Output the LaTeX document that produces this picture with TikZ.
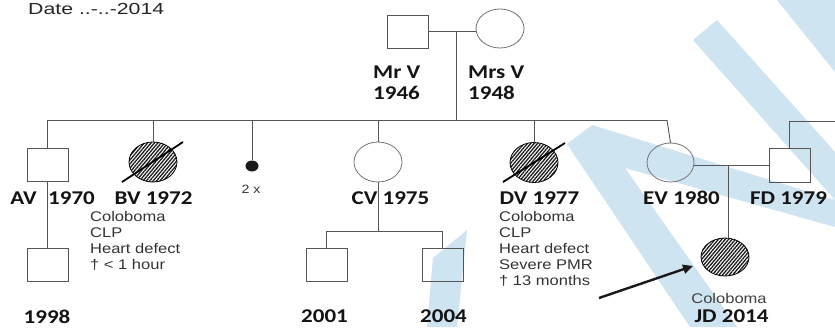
\documentclass[tikz,border=0pt]{standalone}
\usepackage{fontspec}
\usetikzlibrary{shapes.geometric,patterns.meta,arrows.meta}
\newfontfamily\labfont[FakeStretch=1.18]{Carlito}
\newfontfamily\notefont[FakeStretch=1.18]{Liberation Sans}
\newfontfamily\datefont[FakeStretch=1.33]{Liberation Sans}
\definecolor{wm}{RGB}{207,228,241}
\definecolor{ln}{RGB}{85,85,85}
\definecolor{ol}{RGB}{115,115,115}
\begin{document}
\begin{tikzpicture}[x=1pt,y=-1pt,
  male/.style={rectangle,draw=ln,line width=0.9pt,minimum width=41pt,minimum height=33pt,inner sep=0pt,outer sep=0pt},
  female/.style={ellipse,draw=ol,line width=0.8pt,minimum width=48pt,minimum height=40pt,inner sep=0pt,outer sep=0pt},
  affected/.style={female,draw=black,pattern={Lines[angle=50,distance=2.6pt,line width=1.3pt]},pattern color=black!90},
  lbl/.style={font=\labfont\bfseries\fontsize{19.5}{21}\selectfont,inner sep=0pt,text=black!92},
  note/.style={font=\notefont\fontsize{14}{16}\selectfont,align=left,inner sep=0pt,text=black!80},
  link/.style={draw=ln,line width=0.9pt},
  slash/.style={draw=black,line width=1.8pt},
  pointer/.style={draw=black!90,line width=2.4pt,-{Triangle[length=10pt,width=9pt]}}
]
\useasboundingbox (0,0) rectangle (835,327);
\fill[white] (0,0) rectangle (835,327);
% watermark
\fill[wm] (777,0) -- (835,0) -- (835,72) -- cycle;
\fill[wm] (693,40) -- (717,20) -- (835,152) -- (835,200) -- cycle;
\fill[wm] (567,144) -- (592,125) -- (835,200) -- (835,227) -- (625,168) -- (737,327) -- (690,327) -- cycle;
\fill[wm] (433,258) -- (467,230) -- (457,327) -- (427,327) -- cycle;

% date
\node[font=\datefont\fontsize{16}{18}\selectfont,anchor=west,inner sep=0pt,text=black!85] (date) at (28,8.5) {Date ..-..-2014};

% parents
\node[male] (mrv) at (408,31.5) {};
\node[female,minimum height=39pt] (mrsv) at (500,28.5) {};
\draw[link] (mrv.east) -- (mrv.east -| mrsv.west);
\coordinate (mu) at (456,31.5);
\coordinate (sl) at (47.5,120);
\coordinate (sr) at (667,120);
\draw[link] (mu) -- (mu |- sl);
\draw[link] (sl) -- (sr);
\node[lbl,anchor=west,align=left] (mrvl) at (373,82.7) {Mr V\\1946};
\node[lbl,anchor=west,align=left] (mrsvl) at (468,82.7) {Mrs V\\1948};

% AV
\node[male] (av) at (47.5,164.5) {};
\node[male] (av1998) at (47.5,264.5) {};
\draw[link] (sl) -- (av.north);
\draw[link] (av.south) -- (av1998.north);
\node[lbl] (avl) at (23.5,198) {AV};
\node[lbl] (avy) at (71.5,198) {1970};
\node[lbl] (y1998) at (47,316.5) {1998};

% BV
\node[affected] (bv) at (153,162) {};
\draw[link] (bv.north |- sl) -- (bv.north);
\coordinate (bvs1) at (122,182);
\coordinate (bvs2) at (183,142);
\draw[slash] (bvs1) -- (bvs2);
\node[lbl] (bvl) at (153.5,198) {BV 1972};
\node[note,anchor=north west] (bvn) at (90,211.5) {Coloboma\\CLP\\Heart defect\\† < 1 hour};

% miscarriage
\node[ellipse,fill=black!90,minimum width=13pt,minimum height=11pt,inner sep=0pt] (mc) at (252,166) {};
\draw[link] (mc.north |- sl) -- (mc.north);
\node[note,font=\notefont\fontsize{12}{14}\selectfont] (mcl) at (251,189) {2 x};

% CV
\node[female] (cv) at (378,162) {};
\draw[link] (cv.north |- sl) -- (cv.north);
\coordinate (cvl) at (327,231);
\node[male] (c2001) at (326.5,264.5) {};
\node[male] (c2004) at (442.5,264.5) {};
\draw[link] (cv.south) -- (cv.south |- cvl);
\draw[link] (c2001.north) -- (c2001.north |- cvl) -- (c2004.north |- cvl) -- (c2004.north);
\node[lbl] (cvlab) at (390.5,198) {CV 1975};
\node[lbl] (y2001) at (324.5,316.5) {2001};
\node[lbl] (y2004) at (443.5,316.5) {2004};

% DV
\node[affected] (dv) at (534,162.5) {};
\draw[link] (dv.north |- sl) -- (dv.north);
\coordinate (dvs1) at (503,182);
\coordinate (dvs2) at (565,143);
\draw[slash] (dvs1) -- (dvs2);
\node[lbl] (dvl) at (539.5,198) {DV 1977};
\node[note,anchor=north west] (dvn) at (499,211.5) {Coloboma\\CLP\\Heart defect\\Severe PMR\\† 13 months};

% EV and FD
\node[female,minimum width=47pt,minimum height=39pt] (ev) at (670.5,162.5) {};
\draw[link] (sr) -- (ev.north);
\node[male,minimum height=34pt] (fd) at (789.5,165) {};
\coordinate (fdt) at (835,121);
\draw[link] (fd.north) -- (fd.north |- fdt) -- (fdt);
\draw[link] (fd.west) -- (fd.west -| ev.east);
\node[lbl] (evl) at (681.5,198) {EV 1980};
\node[lbl] (fdl) at (788.5,198) {FD 1979};

% JD
\coordinate (evfd) at (728,165);
\node[affected,minimum height=38pt] (jd) at (725,257) {};
\draw[link] (evfd) -- (evfd |- jd.north);
\node[note,text=black!75] (jdn) at (729,298) {Coloboma};
\node[lbl] (jdl) at (731.5,316.5) {JD 2014};
\coordinate (arr) at (599,298);
\draw[pointer] (arr) -- ([xshift=-15pt,yshift=4.5pt]jd.south west);
\end{tikzpicture}
\end{document}
